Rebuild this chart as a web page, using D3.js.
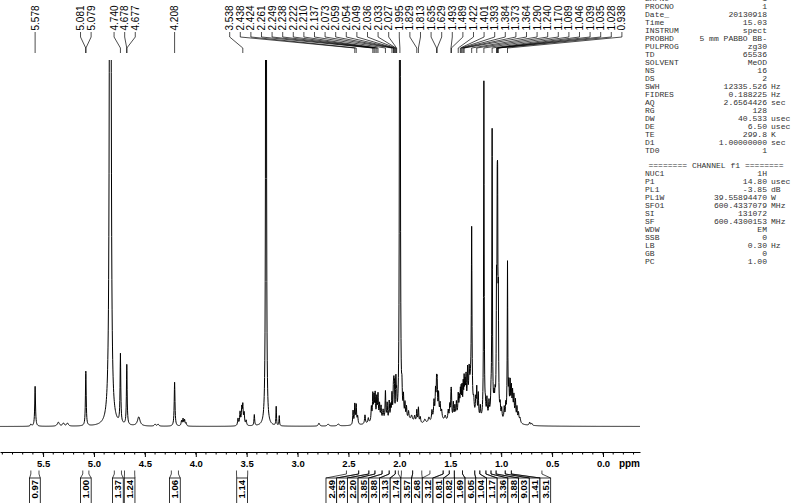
<!DOCTYPE html>
<html><head><meta charset="utf-8">
<script src="https://cdn.jsdelivr.net/npm/d3@7"></script>
<style>body{margin:0;background:#fff}svg{display:block}</style>
</head><body>
<svg id="c" width="791" height="503"></svg>
<script>
// ---------- DATA ----------
// spectrum peaks: shift (ppm), height (px-units above baseline), half width (ppm)
const peakShift = [5.620,5.578,5.350,5.300,5.260,5.081,5.079,4.840,4.740,4.678,4.677,4.560,4.400,4.370,4.208,4.140,4.125,4.110,4.095,
3.585,3.565,3.548,3.538,3.525,3.505,3.425,3.310,3.210,3.180,2.790,2.700,2.600,
2.455,2.438,2.424,2.410,2.338,2.305,2.275,2.261,2.249,2.238,2.222,2.210,2.195,2.180,2.160,2.137,2.120,2.100,2.085,2.073,2.059,2.054,2.049,2.036,2.033,2.027,
1.995,1.975,1.960,1.945,1.930,1.910,1.880,1.850,1.829,1.813,1.795,1.750,1.710,1.680,1.660,1.645,1.635,1.629,1.615,1.600,1.585,1.550,1.520,1.505,1.493,1.489,1.470,1.455,
1.440,1.422,1.410,1.401,1.393,1.384,1.373,1.364,1.355,1.345,1.330,1.315,1.290,1.270,1.250,1.240,1.225,1.205,1.170,1.155,1.140,1.120,1.100,1.089,1.070,1.060,
1.046,1.039,1.035,1.028,1.010,0.995,0.970,0.955,0.938,0.925,0.912,0.900,0.888,0.875,0.860,0.845,0.830,0.815,0.720,0.700,
2.200,1.900,1.620,1.360,1.300,1.080,0.890];
const peakHeight = [2,40,4,3,3,29,29,3600,69,31,31,9,2,2,44,5,7,6,3,
7,13,17,18,12,5,11,3000,19,10,3,2,2,
14,20,19,8,9,5,14,26,22,25,21,24,15,13,10,29,17,19,14,25,28,24,28,25,22,20,
2500,22,20,15,12,8,5,6,12,15,6,4,5,10,18,25,30,30,22,14,8,5,10,14,20,20,16,12,
15,21,16,20,22,23,25,28,24,30,36,30,168,12,16,28,24,12,338,10,18,14,15,283,14,16,
110,165,170,100,12,10,12,14,155,30,32,26,22,20,18,13,9,5,3,2,
5,4,6,12,30,8,8];
const peakWidth = [0.006,0.0045,0.012,0.010,0.010,0.004,0.004,0.0033,0.004,0.004,0.004,0.015,0.008,0.008,0.0045,0.005,0.005,0.005,0.005,
0.005,0.005,0.005,0.004,0.005,0.005,0.004,0.0018,0.003,0.003,0.008,0.010,0.010,
0.004,0.004,0.004,0.005,0.005,0.005,0.004,0.004,0.004,0.004,0.004,0.004,0.004,0.004,0.005,0.004,0.004,0.004,0.004,0.004,0.004,0.003,0.003,0.003,0.003,0.003,
0.002,0.004,0.004,0.004,0.004,0.005,0.008,0.006,0.004,0.004,0.005,0.010,0.008,0.005,0.005,0.004,0.004,0.004,0.004,0.005,0.005,0.008,0.005,0.004,0.004,0.004,0.004,0.004,
0.004,0.004,0.004,0.003,0.003,0.003,0.003,0.003,0.004,0.004,0.004,0.005,0.0035,0.005,0.004,0.004,0.004,0.004,0.003,0.004,0.004,0.004,0.004,0.003,0.004,0.004,
0.003,0.003,0.003,0.003,0.004,0.004,0.004,0.004,0.003,0.004,0.004,0.004,0.004,0.004,0.004,0.004,0.005,0.006,0.006,0.006,
0.10,0.06,0.06,0.08,0.015,0.06,0.04];

// peak labels (top)
const peakLabels = ["5.578","5.081","5.079","4.740","4.678","4.677","4.208","3.538","2.438","2.424","2.261","2.249","2.238","2.222","2.210","2.137","2.073","2.059","2.054","2.049","2.036","2.033","2.027","1.995","1.829","1.813","1.635","1.629","1.493","1.489","1.422","1.401","1.393","1.384","1.373","1.364","1.290","1.240","1.170","1.089","1.046","1.039","1.035","1.028","0.938"];

// integrals (bottom)
const integralValue = ["0.97","1.00","1.37","1.24","1.06","1.14","2.49","3.53","2.20","3.85","3.88","3.13","1.74","3.57","2.68","3.12","0.81","0.82","1.69","6.05","1.04","1.17","3.36","3.88","9.03","1.41","3.51"];
const integralFrom = [5.62,5.11,4.80,4.70,4.24,3.60,2.52,2.40,2.30,2.24,2.17,2.10,2.04,1.98,1.87,1.70,1.57,1.51,1.46,1.38,1.26,1.21,1.15,1.10,1.05,0.96,0.90];
const integralTo   = [5.54,5.05,4.73,4.60,4.17,3.49,2.40,2.30,2.24,2.17,2.10,2.04,2.01,1.87,1.78,1.57,1.51,1.46,1.38,1.26,1.21,1.15,1.10,1.05,0.96,0.90,0.60];

// axis tick labels
const majorTicks = ["5.5","5.0","4.5","4.0","3.5","3.0","2.5","2.0","1.5","1.0","0.5","0.0"];

// parameter panel
const paramNames  = ["EXPNO","PROCNO","Date_","Time","INSTRUM","PROBHD","PULPROG","TD","SOLVENT","NS","DS","SWH","FIDRES","AQ","RG","DW","DE","TE","D1","TD0"];
const paramValues = ["1","1","20130918","15.03","spect","5 mm PABBO BB-","zg30","65536","MeOD","16","2","12335.526","0.188225","2.6564426","128","40.533","6.50","299.8","1.00000000","1"];
const paramUnits  = ["","","","","","","","","","","","Hz","Hz","sec","","usec","usec","K","sec",""];
const channelTitle = "======== CHANNEL f1 ========";
const channelNames  = ["NUC1","P1","PL1","PL1W","SFO1","SI","SF","WDW","SSB","LB","GB","PC"];
const channelValues = ["1H","14.80","-3.85","39.55894470","600.4337079","131072","600.4300153","EM","0","0.30","0","1.00"];
const channelUnits  = ["","usec","dB","W","MHz","","MHz","","","Hz","",""];

// ---------- DRAW ----------
const svg = d3.select("#c");
svg.append("rect").attr("width",791).attr("height",503).attr("fill","#fff");
const x = d3.scaleLinear().domain([5.923,-0.3635]).range([0,640]);
const y = d3.scaleLinear().domain([0,366.5]).range([426.5,60]);

// spectrum
const grid = d3.range(Math.round(5.923/0.002), Math.round(-0.3635/0.002)-1, -1).map(i=>i*0.002);
const xs = grid.concat(peakShift).sort((a,b)=>b-a);
const spec = xs.map(p=>{
  let s=0;
  for(let i=0;i<peakShift.length;i++){const d=(p-peakShift[i])/peakWidth[i]; s+=peakHeight[i]/(1+d*d);}
  return [p,Math.min(s,600)];
});
svg.append("clipPath").attr("id","clip").append("rect").attr("x",0).attr("y",60).attr("width",640).attr("height",395);
svg.append("path").datum(spec).attr("clip-path","url(#clip)")
  .attr("fill","none").attr("stroke","#000").attr("stroke-width",1).attr("stroke-linejoin","round")
  .attr("d",d3.line().x(d=>x(d[0])).y(d=>y(d[1])));

// layout helper: spread ideal positions with min gap (cluster averaging)
function spread(ideal,gap){
  const cl=[];
  ideal.forEach(v=>{
    cl.push({n:1,s:v});
    while(cl.length>1){
      const b=cl[cl.length-1],a=cl[cl.length-2];
      if(a.s/a.n + a.n*gap > b.s/b.n){
        a.s = a.s + b.s - b.n*a.n*gap; a.n += b.n; cl.pop();
      } else break;
    }
  });
  const out=[];
  cl.forEach(c=>{const f=c.s/c.n; for(let k=0;k<c.n;k++) out.push(f+k*gap);});
  return out;
}

// peak labels
const pkX = peakLabels.map(s=>x(+s));
const lbX = spread(pkX,10.6);
const lab = svg.append("g");
peakLabels.forEach((s,i)=>{
  lab.append("path").attr("fill","none").attr("stroke","#000").attr("stroke-width",0.7)
    .attr("d",`M${lbX[i]},32L${lbX[i]},37L${pkX[i]},48L${pkX[i]},53`);
  lab.append("text").attr("transform",`translate(${lbX[i]},30.5) rotate(-90)`)
    .attr("dy","0.35em").attr("font-family","Liberation Sans, Arial, sans-serif").attr("font-size","10px")
    .attr("fill","#000").text(s);
});

// axis
const axG = svg.append("g").attr("transform","translate(0,452)");
axG.call(d3.axisBottom(x).tickValues(majorTicks.map(Number)).tickSize(5).tickSizeOuter(0).tickFormat((d,i)=>majorTicks[i]));
axG.append("g").selectAll("line").data(d3.range(-3,60).map(i=>i/10)).join("line")
  .attr("x1",d=>x(d)).attr("x2",d=>x(d)).attr("y1",0).attr("y2",2.5).attr("stroke","#000").attr("stroke-width",1);
axG.selectAll("text").attr("font-family","Liberation Sans, Arial, sans-serif").attr("font-size","9.5px").attr("font-weight","bold").attr("fill","#000");
axG.select(".domain").attr("stroke","#000");
svg.append("text").attr("x",640).attr("y",467).attr("text-anchor","end")
  .attr("font-family","Liberation Sans, Arial, sans-serif").attr("font-size","10px").attr("font-weight","bold").text("ppm");

// integrals
const bw = 10.7;
const intIdeal = integralFrom.map((f,i)=>(x(f)+x(integralTo[i]))/2);
const intX = spread(intIdeal,bw);
const ig = svg.append("g");
integralValue.forEach((v,i)=>{
  const xf=x(integralFrom[i]), xt=x(integralTo[i]), l=intX[i]-bw/2, r=intX[i]+bw/2;
  ig.append("path").attr("fill","none").attr("stroke","#000").attr("stroke-width",0.7)
    .attr("d",`M${xf},470.5L${xf},474L${l},478M${xt},470.5L${xt},474L${r},478`);
  ig.append("rect").attr("x",l).attr("y",478).attr("width",bw).attr("height",30)
    .attr("fill","#fff").attr("stroke","#000").attr("stroke-width",0.8);
  ig.append("text").attr("transform",`translate(${intX[i]},498.5) rotate(-90)`).attr("dy","0.35em")
    .attr("font-family","Liberation Sans, Arial, sans-serif").attr("font-size","9.5px").attr("font-weight","bold").text(v);
});

// parameter panel (monospace, horizontally stretched like the plotter font)
const sx = 1.15;
const pg = svg.append("g").attr("transform",`scale(${sx},1)`)
  .attr("font-family","Liberation Mono, DejaVu Sans Mono, monospace").attr("font-size","7px").attr("fill","#333");
function row(name,val,unit,yy){
  pg.append("text").attr("x",645/sx).attr("y",yy).text(name);
  pg.append("text").attr("x",767/sx).attr("y",yy).attr("text-anchor","end").text(val);
  if(unit) pg.append("text").attr("x",771/sx).attr("y",yy).text(unit);
}
paramNames.forEach((n,i)=>row(n,paramValues[i],paramUnits[i],0.8+i*8));
pg.append("text").attr("x",716/sx).attr("y",168.5).attr("text-anchor","middle").text(channelTitle);
channelNames.forEach((n,i)=>row(n,channelValues[i],channelUnits[i],176.5+i*8));
</script>
</body></html>
